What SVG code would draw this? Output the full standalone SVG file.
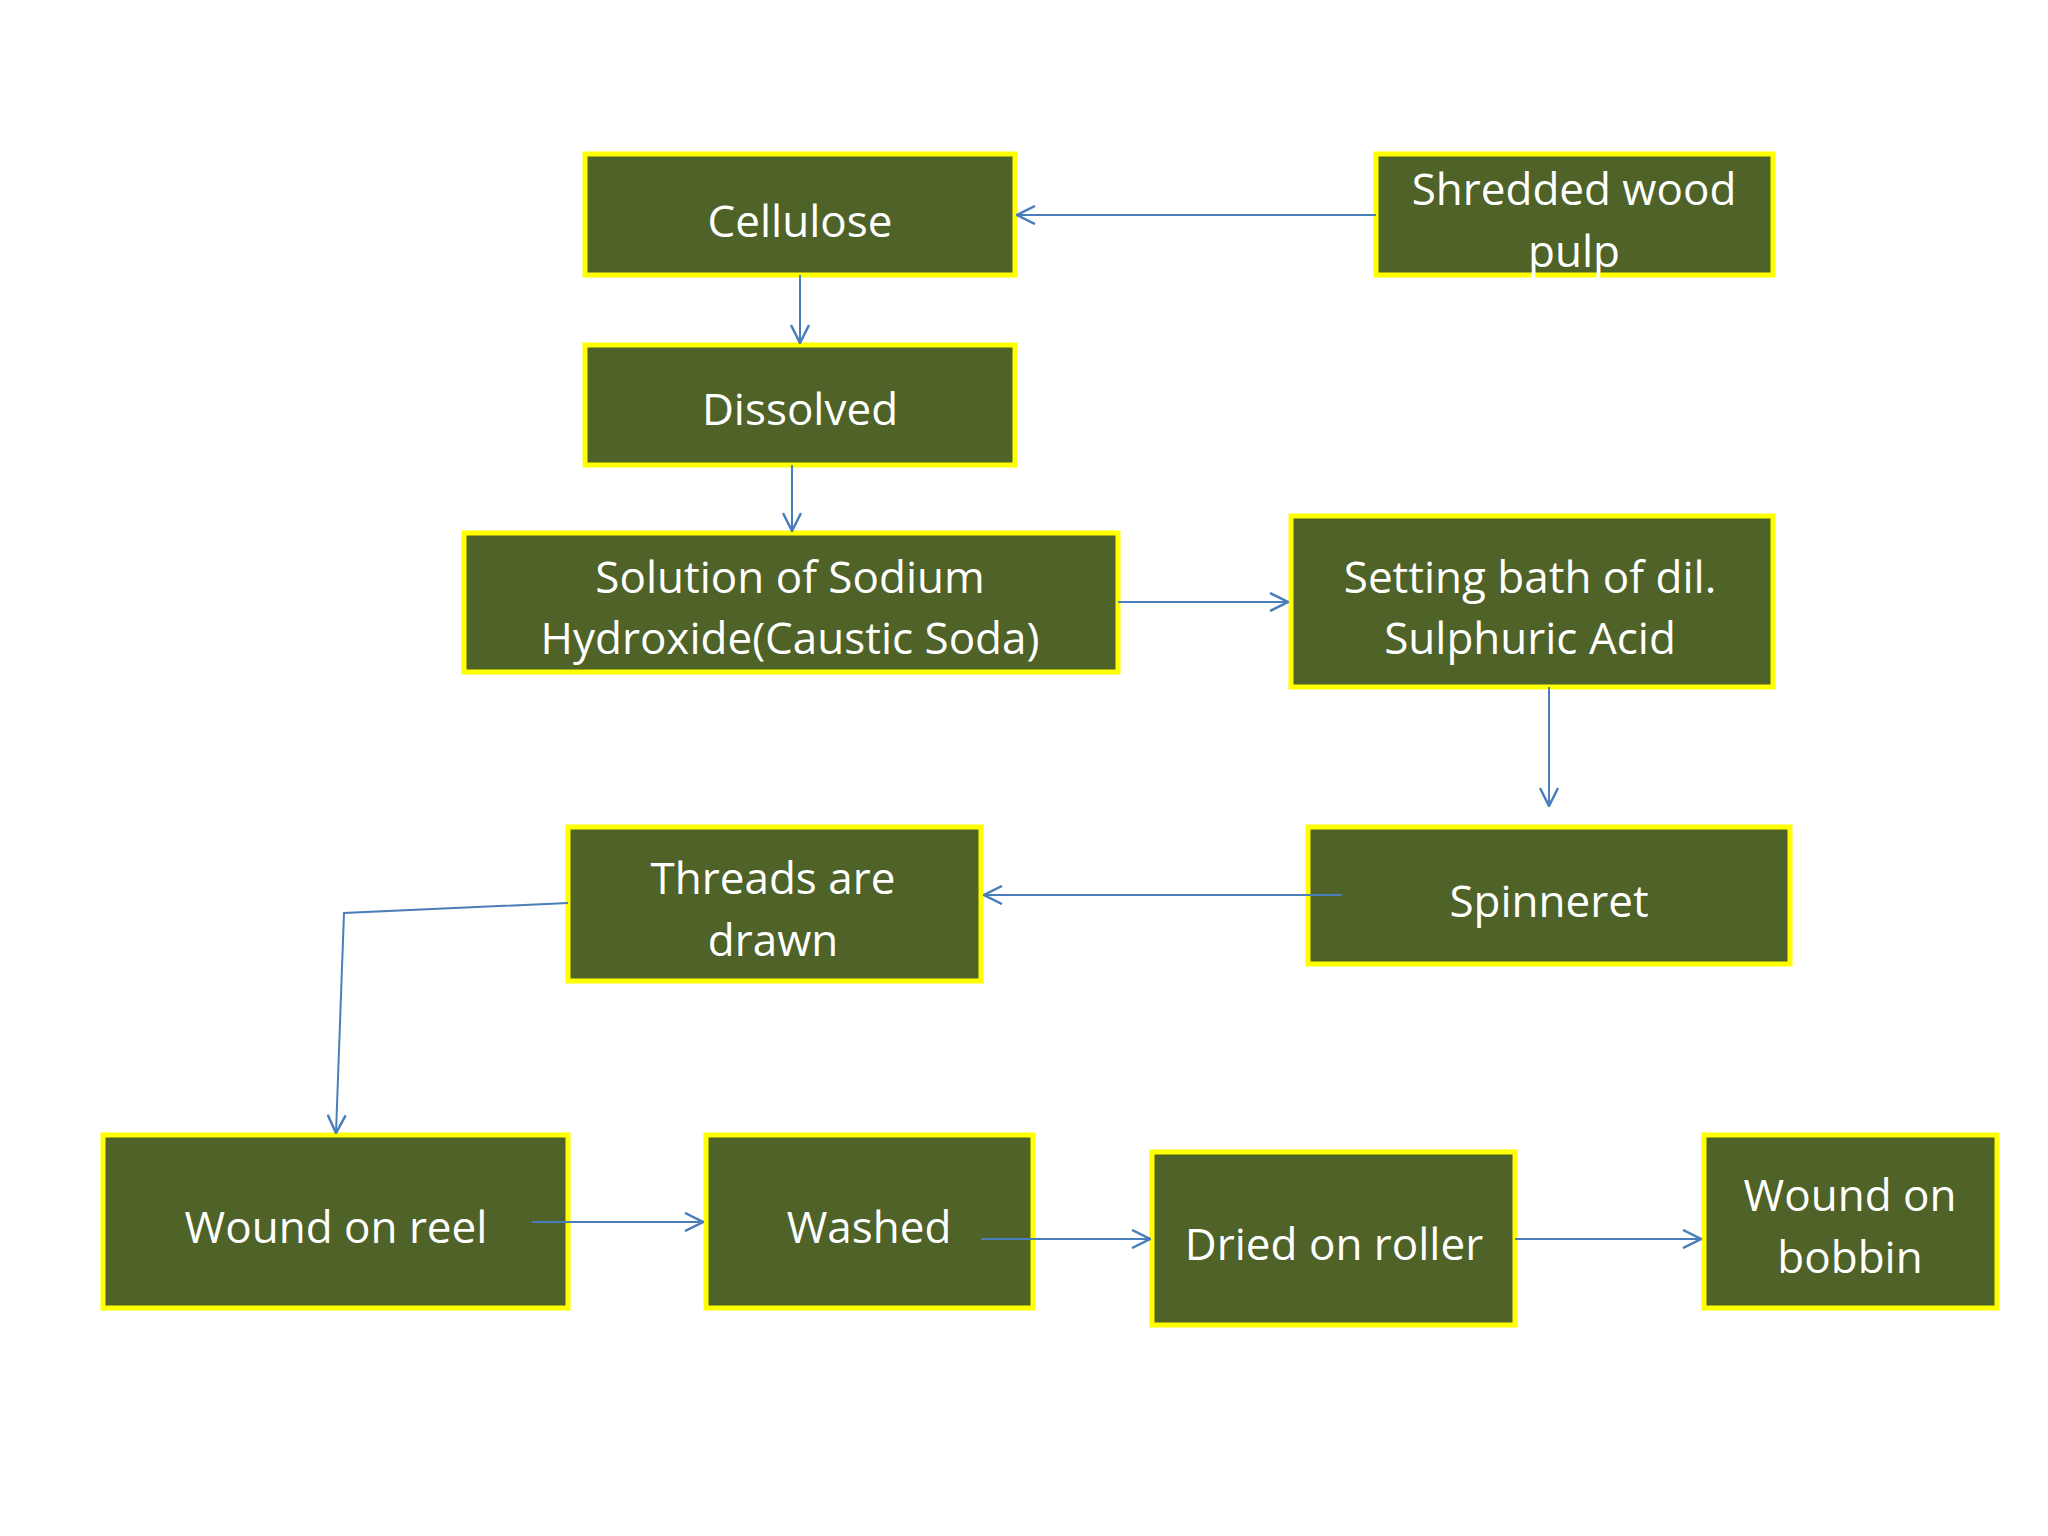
<svg xmlns="http://www.w3.org/2000/svg" width="2048" height="1536" viewBox="0 0 2048 1536">
<style>
.b{fill:#4F6228;stroke:#FFFF00;stroke-width:5}
.t{font-family:"Open Sans","Noto Sans",sans-serif;font-size:44px;fill:#fff;text-anchor:middle;dominant-baseline:central}
.c{fill:none;stroke:#4A7EBB;stroke-width:2;marker-end:url(#a)}
</style>
<defs><marker id="a" viewBox="0 0 20 20" refX="19" refY="10" markerWidth="20" markerHeight="20" markerUnits="userSpaceOnUse" orient="auto"><path d="M1,1 L19,10 L1,19" fill="none" stroke="#4A7EBB" stroke-width="2.5"/></marker></defs>
<rect width="2048" height="1536" fill="#fff"/>
<g id="cellulose"><rect class="b" x="585" y="154" width="430" height="121"/><text class="t" x="800" y="220">Cellulose</text></g>
<g id="pulp"><rect class="b" x="1376" y="154" width="397" height="121"/><text class="t" x="1574" y="188">Shredded wood</text><text class="t" x="1574" y="250">pulp</text></g>
<g id="dissolved"><rect class="b" x="585" y="345" width="430" height="120"/><text class="t" x="800" y="408">Dissolved</text></g>
<g id="solution"><rect class="b" x="464" y="533" width="654" height="139"/><text class="t" x="790" y="576">Solution of Sodium</text><text class="t" x="790" y="637">Hydroxide(Caustic Soda)</text></g>
<g id="setting"><rect class="b" x="1291" y="516" width="482" height="171"/><text class="t" x="1530" y="576">Setting bath of dil.</text><text class="t" x="1530" y="637">Sulphuric Acid</text></g>
<g id="spinneret"><rect class="b" x="1308" y="827" width="482" height="137"/><text class="t" x="1549" y="900">Spinneret</text></g>
<g id="threads"><rect class="b" x="568" y="827" width="413" height="154"/><text class="t" x="773" y="877">Threads are</text><text class="t" x="773" y="939">drawn</text></g>
<g id="reel"><rect class="b" x="103" y="1135" width="465" height="173"/><text class="t" x="336" y="1226">Wound on reel</text></g>
<g id="washed"><rect class="b" x="706" y="1135" width="327" height="173"/><text class="t" x="869" y="1226">Washed</text></g>
<g id="dried"><rect class="b" x="1152" y="1152" width="363" height="173"/><text class="t" x="1334" y="1243">Dried on roller</text></g>
<g id="bobbin"><rect class="b" x="1704" y="1135" width="293" height="173"/><text class="t" x="1850" y="1194">Wound on</text><text class="t" x="1850" y="1256">bobbin</text></g>
<g id="connectors">
<path class="c" d="M1376,215 H1017"/>
<path class="c" d="M800,275 V343"/>
<path class="c" d="M792,465 V531"/>
<path class="c" d="M1118,602 H1288"/>
<path class="c" d="M1549,687 V806"/>
<path class="c" d="M1342,895 H984"/>
<path class="c" d="M568,903 L344,913 L336,1133"/>
<path class="c" d="M532,1222 H703"/>
<path class="c" d="M981,1239 H1150"/>
<path class="c" d="M1515,1239 H1701"/>
</g>
</svg>
